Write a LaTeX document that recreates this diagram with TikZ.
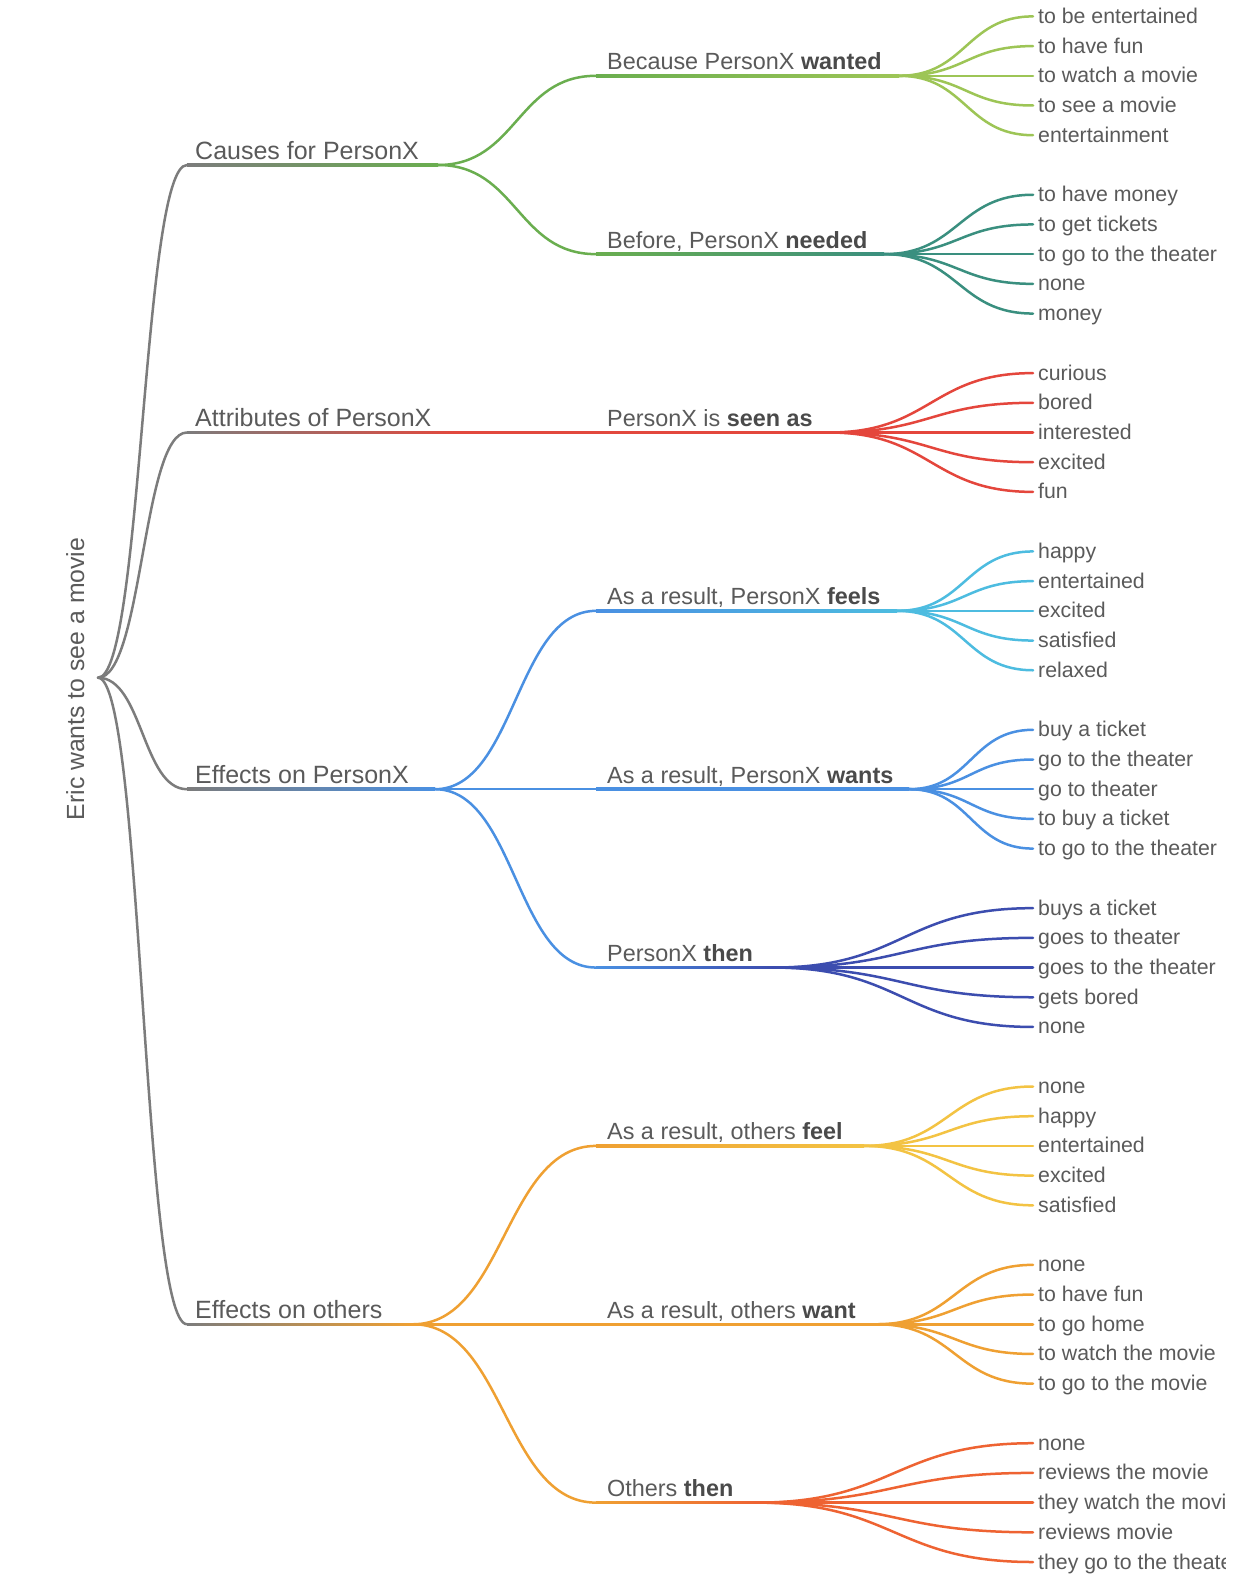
\documentclass[tikz,border=0pt]{standalone}
\usepackage{fontspec}
\setmainfont{Liberation Sans}
\usetikzlibrary{calc}
\definecolor{txt}{HTML}{5A5A5A}
\definecolor{txtb}{HTML}{4A4A4A}
\definecolor{cgray}{HTML}{7C7C7C}
\definecolor{cgreen}{HTML}{6AAE4F}
\definecolor{cwanted}{HTML}{9DC556}
\definecolor{cneeded}{HTML}{3A8F7F}
\definecolor{cred}{HTML}{E2483D}
\definecolor{cseen}{HTML}{E4463C}
\definecolor{cblue}{HTML}{4A90E2}
\definecolor{cfeels}{HTML}{4DBCE0}
\definecolor{cthen}{HTML}{3C4DAF}
\definecolor{corange}{HTML}{EFA032}
\definecolor{cofeel}{HTML}{F3C343}
\definecolor{cothen}{HTML}{EE6332}
\newcommand\lnk[3]{\draw[link,#1] let \p1=(#2), \p2=(#3) in (\p1) .. controls ({(\x1+\x2)/2},\y1) and ({(\x1+\x2)/2},\y2) .. (\p2);}
\newcommand\uline[4]{\shade[left color=#3, right color=#4] let \p1=(#1), \p2=(#2) in (\x1,{\y1-1.25pt}) rectangle (\x2,{\y2+1.25pt});}
\newcommand\leafgroup[4]{%
  \foreach \t [count=\k from 0] in {#4} {
    \coordinate (#1-l\k) at (1033, {#2+29.7*(\k-2)});
    \node[leaf] (#1-t\k) at (1038, {#2+29.7*(\k-2)+7}) {\t};
    \lnk{#3}{#1}{#1-l\k}
  }}
\tikzset{
  link/.style={line width=2.5pt, line cap=round},
  lvlone/.style={anchor=base west, inner sep=0pt, text=txt, font=\fontsize{25}{30}\selectfont},
  lvltwo/.style={anchor=base west, inner sep=0pt, text=txt, font=\fontsize{23.4}{28}\selectfont},
  leaf/.style={anchor=base west, inner sep=0pt, text=txt, font=\fontsize{21.3}{26}\selectfont},
}
\newcommand\bb[1]{\textcolor{txtb}{\bfseries #1}}
\begin{document}
\begin{tikzpicture}[x=1pt,y=-1pt]
\useasboundingbox (0,0) rectangle (1248,1584);
\fill[white] (0,0) rectangle (1248,1584);
\begin{scope}
\clip (0,0) rectangle (1225,1584);
% root
\coordinate (R) at (98,677.7);
\node[rotate=90, anchor=base, inner sep=0pt, text=txt, font=\fontsize{24.8}{30}\selectfont] (root) at (84,679) {Eric wants to see a movie};
% level 1
\coordinate (C1s) at (187,165);     \coordinate (C1e) at (438,165);
\coordinate (A1s) at (187,432.5);   \coordinate (A1e) at (455,432.5);
\coordinate (E1s) at (187,789.2);   \coordinate (E1e) at (435,789.2);
\coordinate (O1s) at (187,1324.25); \coordinate (O1e) at (413,1324.25);
\foreach \nm in {C1s,A1s,E1s,O1s} {\lnk{cgray}{R}{\nm}}
\uline{C1s}{C1e}{cgray}{cgreen}
\uline{A1s}{A1e}{cgray}{cred}
\uline{E1s}{E1e}{cgray}{cblue}
\uline{O1s}{O1e}{cgray}{corange}
\node[lvlone] (causes) at (195,159) {Causes for PersonX};
\node[lvlone] (attr) at (195,426.5) {Attributes of PersonX};
\node[lvlone] (effx) at (195,783.2) {Effects on PersonX};
\node[lvlone] (effo) at (195,1318.25) {Effects on others};
% level 2
\coordinate (W2s) at (596,75.8);    \coordinate (W2e) at (899,75.8);
\coordinate (N2s) at (596,254.15);  \coordinate (N2e) at (884,254.15);
\coordinate (S2s) at (596,432.5);   \coordinate (S2e) at (829,432.5);
\coordinate (F2s) at (596,610.85);  \coordinate (F2e) at (897,610.85);
\coordinate (T2s) at (596,789.2);   \coordinate (T2e) at (909,789.2);
\coordinate (H2s) at (596,967.55);  \coordinate (H2e) at (773,967.55);
\coordinate (OF2s) at (596,1145.9); \coordinate (OF2e) at (864,1145.9);
\coordinate (OW2s) at (596,1324.25);\coordinate (OW2e) at (877,1324.25);
\coordinate (OT2s) at (596,1502.6); \coordinate (OT2e) at (756,1502.6);
\lnk{cgreen}{C1e}{W2s}
\lnk{cgreen}{C1e}{N2s}
\lnk{cred}{A1e}{S2s}
\lnk{cblue}{E1e}{F2s}
\lnk{cblue}{E1e}{T2s}
\lnk{cblue}{E1e}{H2s}
\lnk{corange}{O1e}{OF2s}
\lnk{corange}{O1e}{OW2s}
\lnk{corange}{O1e}{OT2s}
\uline{W2s}{W2e}{cgreen}{cwanted}
\uline{N2s}{N2e}{cgreen}{cneeded}
\uline{S2s}{S2e}{cred}{cseen}
\uline{F2s}{F2e}{cblue}{cfeels}
\uline{T2s}{T2e}{cblue}{cblue}
\uline{H2s}{H2e}{cblue}{cthen}
\uline{OF2s}{OF2e}{corange}{cofeel}
\uline{OW2s}{OW2e}{corange}{corange}
\uline{OT2s}{OT2e}{corange}{cothen}
\node[lvltwo] (wanted) at (607,69.8) {Because PersonX \bb{wanted}};
\node[lvltwo] (needed) at (607,248.15) {Before, PersonX \bb{needed}};
\node[lvltwo] (seen) at (607,426.5) {PersonX is \bb{seen as}};
\node[lvltwo] (feels) at (607,604.85) {As a result, PersonX \bb{feels}};
\node[lvltwo] (wants) at (607,783.2) {As a result, PersonX \bb{wants}};
\node[lvltwo] (then) at (607,961.55) {PersonX \bb{then}};
\node[lvltwo] (ofeel) at (607,1139.9) {As a result, others \bb{feel}};
\node[lvltwo] (owant) at (607,1318.25) {As a result, others \bb{want}};
\node[lvltwo] (othen) at (607,1496.6) {Others \bb{then}};
% leaves
\leafgroup{W2e}{75.8}{cwanted}{to be entertained,to have fun,to watch a movie,to see a movie,entertainment}
\leafgroup{N2e}{254.15}{cneeded}{to have money,to get tickets,to go to the theater,none,money}
\leafgroup{S2e}{432.5}{cseen}{curious,bored,interested,excited,fun}
\leafgroup{F2e}{610.85}{cfeels}{happy,entertained,excited,satisfied,relaxed}
\leafgroup{T2e}{789.2}{cblue}{buy a ticket,go to the theater,go to theater,to buy a ticket,to go to the theater}
\leafgroup{H2e}{967.55}{cthen}{buys a ticket,goes to theater,goes to the theater,gets bored,none}
\leafgroup{OF2e}{1145.9}{cofeel}{none,happy,entertained,excited,satisfied}
\leafgroup{OW2e}{1324.25}{corange}{none,to have fun,to go home,to watch the movie,to go to the movie}
\leafgroup{OT2e}{1502.6}{cothen}{none,reviews the movie,they watch the movie,reviews movie,they go to the theater}
\end{scope}
\end{tikzpicture}
\end{document}
